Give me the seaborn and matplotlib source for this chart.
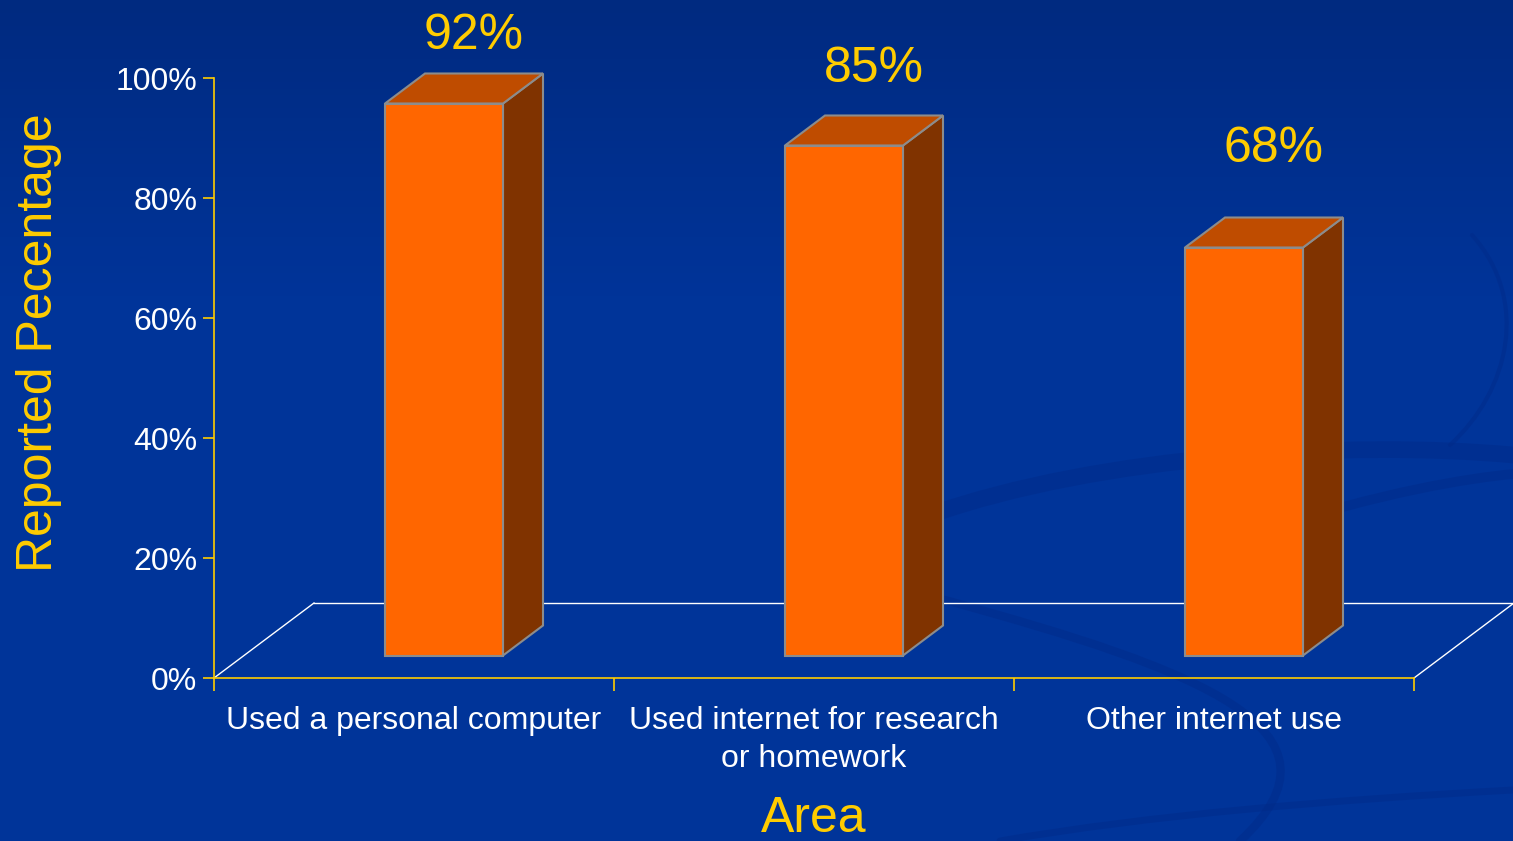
import numpy as np
import pandas as pd
import seaborn as sns
import matplotlib.pyplot as plt
import matplotlib.transforms as mtransforms
from matplotlib.patches import Polygon, PathPatch
from matplotlib.path import Path
from matplotlib.lines import Line2D

# data
categories = ['Used a personal computer', 'Used internet for research or homework', 'Other internet use']
tick_labels = ['Used a personal computer', 'Used internet for research\nor homework', 'Other internet use']
values = [92, 85, 68]
value_labels = ['92%', '85%', '68%']
y_ticks = [0, 20, 40, 60, 80, 100]
y_tick_labels = ['0%', '20%', '40%', '60%', '80%', '100%']

df = pd.DataFrame({'Area': categories, 'Pct': values})

plt.rcParams['font.family'] = ['Liberation Sans', 'DejaVu Sans']
yellow = '#FFCC00'
front_c = '#FF6600'
top_c = '#BF4C00'
side_c = '#803300'
edge_c = '#8C8C8C'

fig = plt.figure(figsize=(15.13, 8.41), dpi=100)
W, H = 1513, 841

# background gradient + faint swooshes
bg = fig.add_axes([0, 0, 1, 1], zorder=-10)
grad = np.linspace(0, 1, 256)
grad = np.clip(grad / 0.35, 0, 1)[:, None]
c_top = np.array([0x00, 0x2A, 0x80]) / 255
c_mid = np.array([0x00, 0x34, 0x99]) / 255
img = c_top[None, None, :] * (1 - grad[..., None]) + c_mid[None, None, :] * grad[..., None]
bg.imshow(img, extent=[0, W, H, 0], aspect='auto')
swoosh = '#002A88'
curves = [
    ([(930, 515), (1100, 455), (1350, 440), (1513, 455)], 12),
    ([(1260, 532), (1380, 492), (1470, 478), (1513, 474)], 7),
    ([(1472, 235), (1530, 300), (1510, 390), (1450, 445)], 3),
    ([(945, 600), (1200, 670), (1360, 730), (1240, 841)], 6),
    ([(1000, 841), (1150, 815), (1330, 800), (1513, 790)], 5),
]
for pts, lw in curves:
    codes = [Path.MOVETO, Path.CURVE4, Path.CURVE4, Path.CURVE4]
    bg.add_patch(PathPatch(Path(pts, codes), facecolor='none', edgecolor=swoosh,
                           linewidth=lw, alpha=0.45, capstyle='round'))
bg.set_xlim(0, W)
bg.set_ylim(H, 0)
bg.axis('off')

ax = fig.add_axes([214 / W, (H - 678) / H, 1200 / W, 600 / H])
ax.patch.set_alpha(0)

sns.barplot(data=df, x='Area', y='Pct', ax=ax, width=0.295, color=front_c,
            saturation=1, edgecolor=edge_c, linewidth=1.5, zorder=3)
ax.set_xlim(-0.5, 2.5)
ax.set_ylim(0, 100)

# push front faces into the depth of the floor, add side and top faces
front_off = (0.30, 0.225)
back_off = (0.70, 0.525)
shift = mtransforms.ScaledTranslation(front_off[0], front_off[1], fig.dpi_scale_trans)
idt = mtransforms.IdentityTransform()
dpi = fig.dpi


def P(x, y, off):
    d = ax.transData.transform((x, y))
    return (d[0] + off[0] * dpi, d[1] + off[1] * dpi)


for bar in ax.patches:
    bar.set_transform(ax.transData + shift)
    bar.set_clip_on(False)
    x0, x1 = bar.get_x(), bar.get_x() + bar.get_width()
    h = bar.get_height()
    side = [P(x1, 0, front_off), P(x1, h, front_off), P(x1, h, back_off), P(x1, 0, back_off)]
    top = [P(x0, h, front_off), P(x1, h, front_off), P(x1, h, back_off), P(x0, h, back_off)]
    for poly, col in [(side, side_c), (top, top_c)]:
        ax.add_patch(Polygon(poly, closed=True, facecolor=col, edgecolor=edge_c,
                             linewidth=1.5, transform=idt, clip_on=False, zorder=2.5))

# floor outline
fl = (1.0, 0.75)
a0 = ax.transAxes.transform((0, 0))
a1 = ax.transAxes.transform((1, 0))
b0 = (a0[0] + fl[0] * dpi, a0[1] + fl[1] * dpi)
b1 = (a1[0] + fl[0] * dpi, a1[1] + fl[1] * dpi)
for p, q in [(a0, b0), (b0, b1), (a1, b1)]:
    ax.add_line(Line2D([p[0], q[0]], [p[1], q[1]], color='white', linewidth=1.0,
                       transform=idt, clip_on=False, zorder=1))

# value labels (powerpoint puts them a bit lower for taller bars)
for i, (v, lab) in enumerate(zip(values, value_labels)):
    ax.text(i + 0.15, 0.78 * v + 33, lab, color=yellow, fontsize=36, ha='center',
            va='baseline', clip_on=False)

# axes styling
for s in ['top', 'right']:
    ax.spines[s].set_visible(False)
for s in ['left', 'bottom']:
    ax.spines[s].set_color(yellow)
    ax.spines[s].set_linewidth(1.2)
ax.set_yticks(y_ticks)
ax.set_yticklabels(y_tick_labels)
ax.set_xticks([-0.5, 0.5, 1.5, 2.5], minor=False)
ax.set_xticklabels([])
ax.set_xticks([0, 1, 2], minor=True)
ax.set_xticklabels(tick_labels, minor=True, linespacing=1.35)
ax.tick_params(axis='y', colors=yellow, labelcolor='white', labelsize=23, length=8, width=1.2, pad=4)
ax.tick_params(axis='x', which='major', colors=yellow, length=9, width=1.2)
ax.tick_params(axis='x', which='minor', length=0, labelcolor='white', labelsize=23, pad=20)
ax.set_xlabel('')
ax.set_ylabel('')

fig.text(39 / W, 1 - 343 / H, 'Reported Pecentage', rotation=90, color=yellow,
         fontsize=36, ha='center', va='center')
fig.text(814 / W, 1 - 832 / H, 'Area', color=yellow, fontsize=36, ha='center', va='baseline')

fig.savefig('out.png', dpi=100, facecolor='#003399')
